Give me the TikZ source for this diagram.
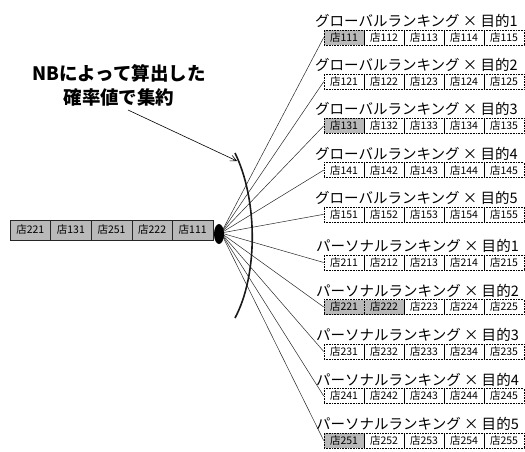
\documentclass[tikz,border=0pt]{standalone}
\usepackage{fontspec}
\newfontfamily\jp{Noto Sans CJK JP}
\usetikzlibrary{arrows.meta,shapes.geometric}
\definecolor{shade}{RGB}{185,185,185}
\begin{document}
\begin{tikzpicture}[x=1pt,y=-1pt,
  cell/.style={draw=black, densely dotted, line width=0.6pt, minimum width=40pt,
    minimum height=15pt, inner sep=0pt, font=\jp\fontsize{10.5}{11}\selectfont},
  lcell/.style={draw=black!85, line width=0.6pt, fill=shade, minimum width=40.6pt,
    minimum height=20pt, inner sep=0pt, font=\jp\fontsize{10.5}{11}\selectfont},
  ttl/.style={anchor=west, inner sep=0pt, font=\jp\fontsize{14.5}{15}\selectfont},
  link/.style={line width=0.5pt, black!85},
  blob/.style={ellipse, fill=black, minimum width=10pt, minimum height=20pt, inner sep=0pt},
  lbl/.style={font=\jp\bfseries\fontsize{18.5}{24}\selectfont, align=center, inner sep=0pt},
  hl-g1-1/.style={fill=shade}, hl-g3-1/.style={fill=shade},
  hl-p2-1/.style={fill=shade}, hl-p2-2/.style={fill=shade}, hl-p5-1/.style={fill=shade}
]
\useasboundingbox (0,0) rectangle (525,452);

% right side: global rankings
\foreach \k/\T in {1/21,2/65.2,3/109.4,4/153.6,5/197.8} {
  \node[ttl] (gt\k) at (315,\T) {グローバルランキング × 目的\k};
  \foreach \i in {1,...,5}
    \node[cell, hl-g\k-\i/.try] (g\k-\i) at ({324+40*(\i-0.5)},{\T+16.5}) {店1\k\i};
}
% right side: personal rankings
\foreach \k/\T in {1/246,2/290.5,3/335,4/379.5,5/424} {
  \node[ttl] (pt\k) at (316,\T) {パーソナルランキング × 目的\k};
  \foreach \i in {1,...,5}
    \node[cell, hl-p\k-\i/.try] (p\k-\i) at ({324+40*(\i-0.5)},{\T+16.5}) {店2\k\i};
}

% left row
\foreach \i/\s in {1/店221,2/店131,3/店251,4/店222,5/店111}
  \node[lcell] (L\i) at ({10+40.6*(\i-0.5)},230) {\s};

% hub and connectors
\coordinate (hub) at (221,233);
\foreach \n in {g1,g2,g3,g4,g5,p1,p2,p3,p4,p5}
  \draw[link] (hub) -- (\n-1.west);

% arc
\coordinate (arcT) at (235,153);
\coordinate (arcB) at (235,318);
\draw[line width=1.6pt, black!90] (arcT) .. controls (258,200) and (258,275) .. (arcB);

\node[blob] (knot) at (219,234) {};

% label and arrow
\node[lbl] (note) at (119,85) {NBによって算出した\\確率値で集約};
\coordinate (arrS) at (128,110);
\coordinate (arrE) at (237,161);
\draw[line width=0.6pt, -{Straight Barb[length=6pt,width=6pt]}] (arrS) -- (arrE);
\end{tikzpicture}
\end{document}
